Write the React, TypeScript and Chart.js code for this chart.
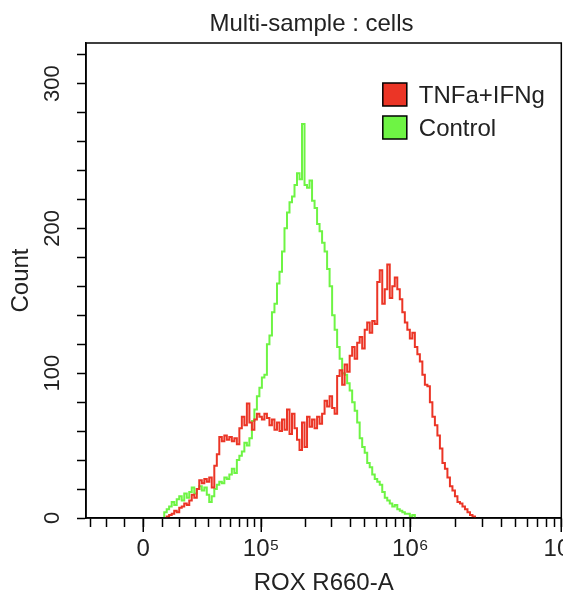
import React, { useEffect, useRef } from 'react';
import { Chart, LinearScale, registerables } from 'chart.js';

// ---- data ----
const X_BINS = [
  10600, 11700, 13300, 14400, 16200, 17300, 19100, 20300, 22100, 23400,
  25300, 26600, 28600, 30000, 32100, 33500, 35800, 37300, 39600, 41200,
  43700, 45500, 48100, 49900, 52800, 54700, 57700, 59800, 63000, 65200,
  68700, 71000, 74700, 77300, 81200, 84000, 88200, 91100, 95700, 98800,
  103700, 107100, 112400, 116100, 121700, 125700, 131800, 136000, 142600, 147100,
  154200, 159100, 166700, 172000, 180200, 185900, 194800, 200900, 210500, 217100,
  227400, 234600, 245700, 253400, 265400, 273700, 286600, 295600, 309600, 319300,
  334300, 344800, 361000, 372300, 389800, 402000, 420900, 434000, 454400, 468600,
  490600, 505900, 529700, 546200, 571900, 589700, 617400, 636600, 666500, 687300,
  719500, 741900, 776800, 800900, 838500, 864600, 905500, 933600, 977400, 1007800,
  1055100, 1087900, 1138900, 1174300, 1229400, 1267600, 1327100, 1368300, 1432500, 1477000,
  1546300, 1594300, 1669100, 1720900, 1801700, 1857600, 1944800, 2005200, 2099300, 2164600,
  2266100, 2336500, 2446100, 2522100, 2640400, 2722600,
];

const TNF_COUNTS = [
  null, 0, 1, 2, 3, 5, 4, 7, 8, 10,
  9, 12, 16, 14, 20, 26, 24, 27, 25, 28,
  21, 36, 44, 56, 53, 57, 54, 56, 53, 55,
  51, 62, 70, 64, 79, 66, 61, 68, 72, 70,
  68, 72, 69, 64, 68, 61, 66, 60, 68, 61,
  75, 58, 72, 62, 54, 47, 66, 49, 70, 63,
  68, 62, 70, 65, 72, 81, 77, 84, 76, 72,
  98, 102, 92, 106, 101, 112, 118, 110, 121, 125,
  117, 130, 135, 128, 136, 134, 163, 171, 148, 158,
  175, 152, 160, 166, 158, 151, 142, 135, 130, 124,
  128, 118, 113, 108, 99, 92, 91, 80, 70, 64,
  57, 48, 38, 34, 28, 22, 19, 15, 11, 10,
  8, 6, 4, 2, 1, 0,
];

const CONTROL_COUNTS = [
  1, 4, 6, 8, 11, 9, 13, 15, 12, 17,
  14, 18, 21, 17, 20, 22, 19, 21, 16, 11,
  15, 20, 23, 25, 24, 28, 27, 30, 34, 31,
  40, 43, 46, 52, 50, 55, 67, 75, 84, 90,
  97, 99, 120, 126, 142, 148, 162, 170, 184, 200,
  211, 218, 222, 230, 238, 234, 272, 230, 228, 233,
  219, 214, 203, 198, 190, 184, 172, 160, 140, 130,
  118, 110, 100, 99, 93, 88, 80, 74, 66, 55,
  49, 45, 38, 35, 30, 27, 25, 23, 18, 14,
  12, 10, 8, 9, 6, 5, 4, 3, 3, 1,
  2, 0, null, null, null, null, null, null, null, null,
  null, null, null, null, null, null, null, null, null, null,
  null, null, null, null, null, null,
];

const SERIES_NAMES = ['TNFa+IFNg', 'Control'];
const SERIES_COLORS = ['#EB3526', '#6EF444'];

const X_TICKS = [
  -30000, -20000, -10000, 0,
  10000, 20000, 30000, 40000, 50000, 60000, 70000, 80000, 90000, 100000,
  200000, 300000, 400000, 500000, 600000, 700000, 800000, 900000, 1000000,
  2000000, 3000000, 4000000, 5000000, 6000000, 7000000, 8000000, 9000000, 10000000,
];
const X_MAJOR = [0, 100000, 1000000, 10000000];
const X_MAJOR_LABELS = ['0', '10\u2075', '10\u2076', '10\u2077'];
const Y_LABELED = [0, 100, 200, 300];

const X_MIN = -33500;
const X_MAX = 10000000;
const Y_MAX = 328;
const ASINH_C = 34000;

const TITLE = 'Multi-sample : cells';
const X_TITLE = 'ROX R660-A';
const Y_TITLE = 'Count';

const FONT = "'Liberation Sans', Arial, sans-serif";
const TEXT = '#222222';

// ---- arcsinh (biexponential-like) scale ----
class AsinhScale extends LinearScale {
  static id = 'asinh';
  static defaults = {};
  _tMin: number = 0;
  _tMax: number = 1;

  buildTicks() {
    (this as any).start = this.min;
    (this as any).end = this.max;
    return X_TICKS.filter((v) => v >= this.min && v <= this.max).map((v) => ({ value: v }));
  }

  configure() {
    super.configure();
    this._tMin = Math.asinh(this.min / ASINH_C);
    this._tMax = Math.asinh(this.max / ASINH_C);
  }

  getPixelForValue(value: number) {
    const t = Math.asinh(value / ASINH_C);
    return this.getPixelForDecimal((t - this._tMin) / (this._tMax - this._tMin));
  }

  getValueForPixel(pixel: number) {
    const t = this._tMin + this.getDecimalForPixel(pixel) * (this._tMax - this._tMin);
    return ASINH_C * Math.sinh(t);
  }
}

Chart.register(...registerables, AsinhScale as any);

const decorPlugin = {
  id: 'decor',
  afterDatasetsDraw(chart: any) {
    const { ctx, chartArea } = chart;
    const { left, top, right, bottom } = chartArea;
    ctx.save();
    // frame
    ctx.strokeStyle = '#000';
    ctx.lineWidth = 1.5;
    ctx.strokeRect(left, top, right - left, bottom - top);
    // longer major ticks on x
    const xs = chart.scales.x;
    X_MAJOR.forEach((v) => {
      const px = Math.round(xs.getPixelForValue(v)) + 0.25;
      ctx.beginPath();
      ctx.moveTo(px, bottom);
      ctx.lineTo(px, bottom + 14);
      ctx.stroke();
    });
    // main title
    ctx.fillStyle = TEXT;
    ctx.font = `24px ${FONT}`;
    ctx.textAlign = 'center';
    ctx.textBaseline = 'middle';
    ctx.fillText(TITLE, left + 225.5, 24);
    // legend
    chart.data.datasets.forEach((ds: any, i: number) => {
      const bx = right - 178.5;
      const by = top + 40 + i * 33;
      ctx.fillStyle = ds.borderColor;
      ctx.fillRect(bx, by, 24, 23);
      ctx.strokeStyle = '#000';
      ctx.lineWidth = 1.5;
      ctx.strokeRect(bx, by, 24, 23);
      ctx.fillStyle = TEXT;
      ctx.textAlign = 'left';
      ctx.textBaseline = 'middle';
      ctx.fillText(ds.label, bx + 36, by + 13);
    });
    ctx.restore();
  },
};

export default function App() {
  const ref = useRef<HTMLCanvasElement | null>(null);

  useEffect(() => {
    if (!ref.current) return;
    Chart.defaults.font.family = FONT;
    const seriesCounts = [TNF_COUNTS, CONTROL_COUNTS];
    const chart = new Chart(ref.current, {
      type: 'line',
      data: {
        datasets: SERIES_NAMES.map((name, i) => ({
          label: name,
          data: X_BINS.map((x, j) => ({ x, y: seriesCounts[i][j] })),
          borderColor: SERIES_COLORS[i],
          backgroundColor: SERIES_COLORS[i],
          borderWidth: 2,
          pointRadius: 0,
          stepped: 'middle',
          fill: false,
          spanGaps: false,
        })) as any,
      },
      options: {
        animation: false,
        responsive: false,
        events: [],
        layout: { padding: { top: 43, left: 0, right: 0, bottom: 0 } },
        plugins: {
          legend: { display: false },
          title: { display: false },
          tooltip: { enabled: false },
        },
        scales: {
          x: {
            type: 'asinh' as any,
            min: X_MIN,
            max: X_MAX,
            ticks: {
              autoSkip: false,
              minRotation: 0,
              maxRotation: 0,
              padding: 10,
              color: TEXT,
              font: { size: 24, lineHeight: 1 },
              callback: (v: any) => {
                const k = X_MAJOR.indexOf(Number(v));
                return k >= 0 ? X_MAJOR_LABELS[k] : '';
              },
            },
            grid: { drawOnChartArea: false, tickLength: 9, tickColor: '#000', tickWidth: 1.5 },
            border: { display: true, color: '#000', width: 1.5 },
            title: {
              display: true,
              text: X_TITLE,
              color: TEXT,
              font: { size: 24, lineHeight: 1 },
              padding: { top: 0, bottom: 5 },
            },
          },
          y: {
            type: 'linear',
            min: 0,
            max: Y_MAX,
            ticks: {
              stepSize: 20,
              includeBounds: false,
              autoSkip: false,
              minRotation: 90,
              maxRotation: 90,
              crossAlign: 'center',
              padding: 6,
              color: TEXT,
              font: { size: 22, lineHeight: 1 },
              callback: (v: any) => (Y_LABELED.includes(Number(v)) ? String(v) : ''),
            },
            grid: { drawOnChartArea: false, tickLength: 9, tickColor: '#000', tickWidth: 1.5 },
            border: { display: true, color: '#000', width: 1.5 },
            title: {
              display: true,
              text: Y_TITLE,
              color: TEXT,
              font: { size: 24, lineHeight: 1 },
              padding: { top: 9, bottom: 10 },
            },
          },
        },
      },
      plugins: [decorPlugin],
    });
    return () => chart.destroy();
  }, []);

  return (
    <div
      style={{
        position: 'fixed',
        left: 0,
        top: 0,
        width: 563,
        height: 596,
        overflow: 'hidden',
        background: '#fff',
      }}
    >
      <canvas ref={ref} width={589} height={600} style={{ display: 'block' }} />
    </div>
  );
}
